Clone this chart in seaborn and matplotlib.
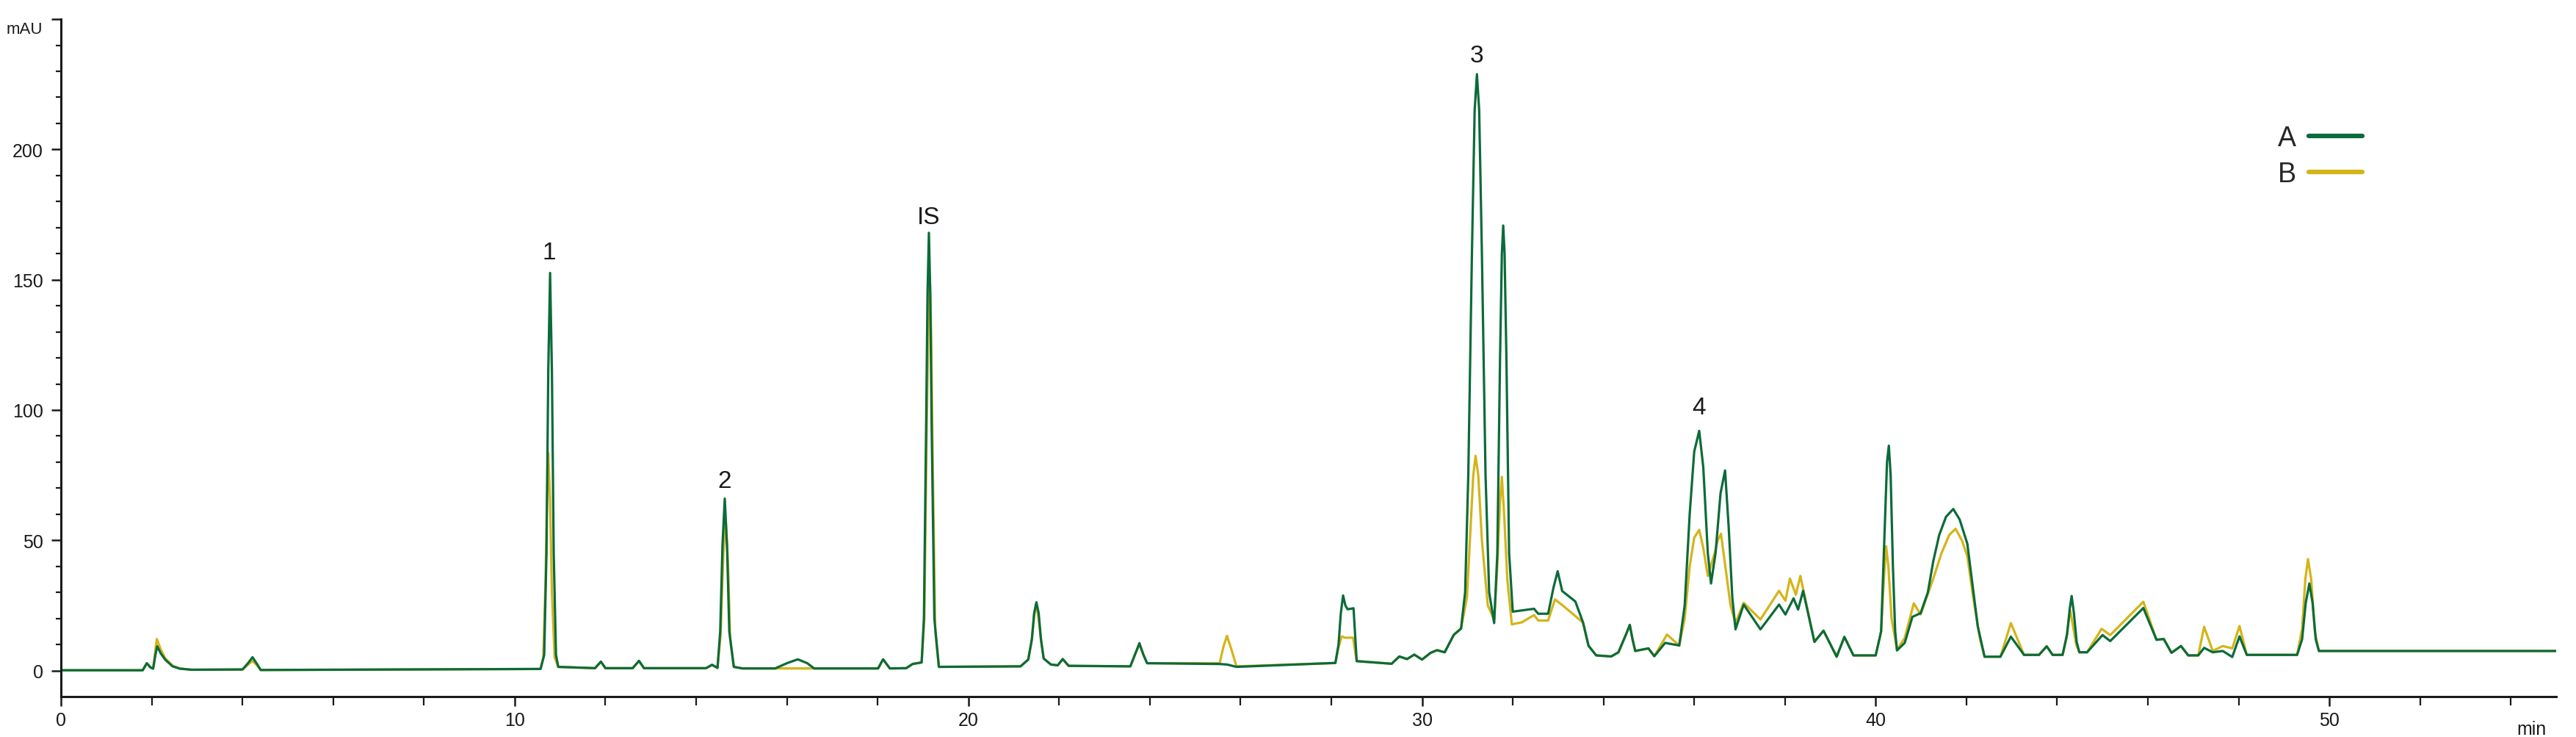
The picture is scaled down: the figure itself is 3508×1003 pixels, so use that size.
import numpy as np
import pandas as pd
import matplotlib
matplotlib.use("Agg")
import matplotlib.pyplot as plt
from matplotlib.lines import Line2D
from matplotlib.ticker import FixedLocator
import seaborn as sns

# chromatogram A (green): (retention time in min, absorbance in mAU)
points_a = [
    (0.00, 0.1), (1.80, 0.1), (1.89, 2.8), (1.97, 1.2), (2.03, 0.7), (2.08, 6.0),
    (2.12, 9.3), (2.20, 6.5), (2.30, 4.1), (2.46, 1.6), (2.62, 0.7), (2.88, 0.3),
    (4.00, 0.4), (4.12, 2.8), (4.22, 5.1), (4.32, 2.5), (4.40, 0.2),
    (10.57, 0.6), (10.65, 6), (10.70, 45), (10.74, 115), (10.78, 152.6), (10.82, 115),
    (10.86, 45), (10.91, 6), (10.96, 1.4),
    (11.77, 0.9), (11.90, 3.4), (12.00, 0.9), (12.60, 0.9), (12.74, 3.7), (12.85, 0.9),
    (14.22, 0.9), (14.35, 2.2), (14.47, 1.0), (14.53, 15), (14.58, 48), (14.63, 66),
    (14.68, 48), (14.73, 15), (14.83, 1.4), (15.02, 0.8),
    (15.74, 0.8), (16.00, 2.8), (16.24, 4.3), (16.45, 2.8), (16.60, 0.8),
    (18.01, 0.8), (18.12, 4.3), (18.27, 0.8), (18.63, 0.9), (18.77, 2.5), (18.97, 3.1),
    (19.02, 20), (19.07, 95), (19.10, 145), (19.13, 168), (19.16, 145), (19.19, 95),
    (19.25, 20), (19.35, 1.4),
    (21.15, 1.6), (21.32, 4.2), (21.40, 12), (21.45, 22), (21.50, 26.2), (21.55, 22),
    (21.60, 12), (21.66, 4.6), (21.82, 2.3), (21.97, 2.0), (22.08, 4.4), (22.21, 1.8),
    (23.57, 1.6), (23.67, 6), (23.77, 10.5), (23.86, 6), (23.94, 2.8),
    (25.54, 2.5), (25.70, 2.3), (25.91, 1.4),
    (28.09, 2.9), (28.16, 10), (28.21, 22), (28.26, 28.8), (28.31, 25), (28.36, 23.5),
    (28.49, 23.9), (28.52, 15), (28.56, 3.6),
    (29.33, 2.6), (29.50, 5.4), (29.67, 4.4), (29.83, 6.1), (30.00, 4.2), (30.19, 6.8),
    (30.33, 7.8), (30.50, 7.0), (30.70, 13.7), (30.86, 16.1),
    (30.95, 30), (31.02, 75), (31.10, 160), (31.16, 215), (31.21, 228.9), (31.26, 215),
    (31.32, 160), (31.40, 75), (31.48, 30), (31.59, 18.2),
    (31.66, 45), (31.72, 120), (31.76, 160), (31.79, 170.8), (31.82, 160), (31.86, 120),
    (31.92, 45), (32.00, 22.6),
    (32.47, 23.7), (32.56, 21.8), (32.78, 21.8), (32.90, 32), (32.99, 38.1), (33.09, 30.5),
    (33.38, 26.5), (33.55, 18.4), (33.67, 9.5), (33.84, 5.8),
    (34.17, 5.4), (34.33, 7.0), (34.50, 14), (34.58, 17.5), (34.64, 12), (34.70, 7.5),
    (34.99, 8.5), (35.12, 5.5), (35.36, 10.6), (35.67, 9.6),
    (35.79, 25), (35.90, 60), (36.00, 84), (36.11, 92), (36.20, 78), (36.30, 45),
    (36.37, 33.4), (36.47, 45), (36.58, 68), (36.68, 76.8), (36.76, 55), (36.84, 28),
    (36.91, 15.8),
    (37.09, 25.3), (37.46, 15.8), (37.87, 25.3), (38.01, 21.5), (38.19, 27.7),
    (38.29, 23.4), (38.40, 30.6), (38.65, 11.0), (38.85, 15.3), (39.14, 5.3),
    (39.31, 12.9), (39.51, 5.8),
    (40.00, 5.8), (40.12, 15), (40.20, 55), (40.25, 80), (40.29, 86.3), (40.33, 75),
    (40.38, 40), (40.43, 15), (40.47, 7.7),
    (40.64, 10.6), (40.81, 20.6), (40.99, 22), (41.15, 30), (41.27, 42), (41.40, 52),
    (41.55, 59), (41.71, 62), (41.85, 58), (42.02, 48.7), (42.12, 35), (42.25, 17),
    (42.40, 5.3), (42.75, 5.3), (42.98, 13), (43.27, 6.0), (43.60, 6.0), (43.77, 9.3),
    (43.90, 6.0), (44.12, 6.0), (44.22, 14), (44.28, 24), (44.32, 28.6), (44.37, 22),
    (44.43, 11), (44.49, 7.0), (44.66, 7.0), (45.00, 13.6), (45.17, 11.3), (45.90, 24.0),
    (46.19, 11.8), (46.35, 12.1), (46.52, 6.8), (46.73, 9.4), (46.89, 5.8), (47.11, 5.8),
    (47.24, 8.7), (47.43, 7.0), (47.65, 7.5), (47.86, 5.2), (48.02, 13.1), (48.18, 6.0),
    (49.29, 6.0), (49.40, 12), (49.48, 26), (49.56, 33.4), (49.63, 26), (49.70, 12),
    (49.77, 7.5), (55.00, 7.5),
]

# chromatogram B (yellow)
points_b = [
    (0.00, 0.1), (1.80, 0.1), (1.89, 2.8), (1.97, 1.2), (2.03, 0.9), (2.08, 8.0),
    (2.11, 12.1), (2.20, 8.0), (2.30, 4.6), (2.46, 1.8), (2.62, 0.8), (2.88, 0.3),
    (4.00, 0.4), (4.12, 2.2), (4.22, 3.7), (4.32, 2.0), (4.40, 0.2),
    (10.57, 0.6), (10.63, 5), (10.68, 35), (10.71, 65), (10.74, 83.5), (10.78, 65),
    (10.82, 30), (10.88, 5), (10.96, 1.4),
    (11.77, 0.9), (11.90, 3.4), (12.00, 0.9), (12.60, 0.9), (12.74, 3.7), (12.85, 0.9),
    (14.22, 0.9), (14.35, 2.2), (14.47, 1.0), (14.54, 14), (14.60, 45), (14.65, 58),
    (14.70, 42), (14.75, 12), (14.83, 1.4), (15.02, 0.8), (16.60, 0.8),
    (18.01, 0.8), (18.12, 4.3), (18.27, 0.8), (18.63, 0.9), (18.77, 2.5), (18.97, 3.1),
    (19.03, 20), (19.08, 90), (19.12, 135), (19.15, 151), (19.18, 130), (19.21, 85),
    (19.27, 15), (19.35, 1.4),
    (21.15, 1.6), (21.32, 4.2), (21.40, 12), (21.45, 21), (21.49, 25.5), (21.54, 21),
    (21.60, 12), (21.66, 4.6), (21.82, 2.3), (21.97, 2.0), (22.08, 4.4), (22.21, 1.8),
    (23.57, 1.6), (23.67, 6), (23.77, 10.0), (23.86, 6), (23.94, 2.8),
    (25.54, 2.8), (25.62, 9), (25.70, 13.3), (25.80, 8), (25.91, 1.6),
    (28.09, 2.9), (28.16, 9), (28.23, 13.1), (28.30, 12.6), (28.48, 12.6), (28.56, 3.6),
    (29.33, 2.6), (29.50, 5.4), (29.67, 4.4), (29.83, 6.1), (30.00, 4.2), (30.19, 6.8),
    (30.33, 7.8), (30.50, 7.0), (30.70, 13.7), (30.86, 16.1),
    (30.99, 28), (31.07, 55), (31.13, 75), (31.18, 82.4), (31.24, 75), (31.32, 50),
    (31.45, 25), (31.59, 19.5),
    (31.66, 40), (31.72, 65), (31.76, 74.3), (31.81, 60), (31.88, 35), (31.98, 17.7),
    (32.20, 18.5), (32.47, 21.3), (32.56, 19.2), (32.78, 19.2), (32.93, 27.3),
    (33.10, 25), (33.42, 20.3), (33.55, 18.4), (33.67, 9.5), (33.84, 5.8),
    (34.17, 5.4), (34.33, 7.0), (34.50, 14), (34.58, 17.5), (34.64, 12), (34.70, 7.5),
    (34.99, 8.5), (35.12, 5.5), (35.40, 13.8), (35.67, 9.6),
    (35.79, 20), (35.90, 40), (36.00, 51), (36.11, 54), (36.20, 47), (36.30, 36.3),
    (36.45, 45), (36.52, 50), (36.59, 52.5), (36.67, 42), (36.80, 25), (36.91, 18.2),
    (37.09, 26), (37.46, 19.6), (37.87, 30.6), (38.01, 26.8), (38.11, 35.3),
    (38.24, 29.1), (38.34, 36.3), (38.65, 11.0), (38.85, 15.3), (39.14, 5.3),
    (39.31, 12.9), (39.51, 5.8),
    (40.00, 5.8), (40.12, 15), (40.18, 35), (40.23, 47.7), (40.28, 40), (40.35, 20),
    (40.47, 8), (40.64, 12.5), (40.84, 25.8), (40.99, 21.5), (41.27, 35.3), (41.45, 45),
    (41.62, 52), (41.76, 54.4), (41.90, 50), (42.02, 43.9), (42.15, 28), (42.30, 12),
    (42.40, 5.3), (42.75, 5.3), (42.98, 18.2), (43.27, 6.0), (43.60, 6.0), (43.77, 9.3),
    (43.90, 6.0), (44.12, 6.0), (44.20, 12), (44.26, 20), (44.29, 23), (44.34, 18),
    (44.42, 10), (44.49, 7.0), (44.66, 7.0), (44.98, 16.0), (45.17, 13.6), (45.90, 26.4),
    (46.19, 11.8), (46.35, 12.1), (46.52, 6.8), (46.73, 9.4), (46.89, 5.8), (47.11, 5.8),
    (47.24, 16.8), (47.43, 7.5), (47.65, 9.4), (47.86, 8.5), (48.02, 17.1), (48.18, 6.0),
    (49.29, 6.0), (49.40, 16), (49.47, 35), (49.53, 42.8), (49.60, 35), (49.68, 15),
    (49.77, 7.5), (55.00, 7.5),
]

# peak annotations
peak_names = ["1", "2", "IS", "3", "4"]
peak_times = [10.76, 14.62, 19.13, 31.2, 36.1]
peak_label_y = [160.5, 72.7, 174.0, 236.0, 101.0]

colors = {"A": "#0b6b3a", "B": "#d4b419"}

df = pd.concat([
    pd.DataFrame(points_b, columns=["time", "mAU"]).assign(sample="B"),
    pd.DataFrame(points_a, columns=["time", "mAU"]).assign(sample="A"),
], ignore_index=True)

sns.set_theme(style="ticks")
plt.rcParams["font.family"] = ["Liberation Sans", "DejaVu Sans"]

fig = plt.figure(figsize=(35.08, 10.04), dpi=100)
ax = fig.add_axes([0.0237, 0.0548, 0.9686, 0.9182])

sns.lineplot(data=df, x="time", y="mAU", hue="sample", hue_order=["B", "A"],
             palette=colors, estimator=None, sort=False, linewidth=2.3,
             legend=False, ax=ax)

for name, t, y in zip(peak_names, peak_times, peak_label_y):
    ax.text(t, y, name, ha="center", va="center", fontsize=24, color="#1a1a1a")

ax.set_xlim(0, 55)
ax.set_ylim(-10, 250)
ax.set_xticks([0, 10, 20, 30, 40, 50])
ax.xaxis.set_minor_locator(FixedLocator([2, 4, 6, 8, 12, 14, 16, 18, 22, 24, 26, 28,
                                         32, 34, 36, 38, 42, 44, 46, 48, 52, 54]))
ax.set_yticks([0, 50, 100, 150, 200, 250])
ax.set_yticklabels(["0", "50", "100", "150", "200", ""])
ax.yaxis.set_minor_locator(FixedLocator([v for v in range(10, 250, 10) if v % 50]))
ax.set_xlabel("")
ax.set_ylabel("")

for s in ["left", "bottom"]:
    ax.spines[s].set_linewidth(2.2)
    ax.spines[s].set_color("#1a1a1a")
sns.despine(ax=ax)

ax.tick_params(axis="both", which="major", length=9.5, width=1.8, color="#1a1a1a",
               labelsize=18, labelcolor="#1a1a1a")
ax.tick_params(axis="y", which="major", pad=8)
ax.tick_params(axis="x", which="major", pad=5)
ax.tick_params(axis="y", which="minor", length=5, width=1.6, color="#1a1a1a")
ax.tick_params(axis="x", which="minor", length=8.5, width=1.6, color="#1a1a1a")

ax.text(-0.0075, 0.986, "mAU", transform=ax.transAxes, ha="right", va="center",
        fontsize=16, color="#1a1a1a")
ax.text(0.996, -0.035, "min", transform=ax.transAxes, ha="right", va="top",
        fontsize=18, color="#1a1a1a")

handles = [Line2D([], [], color=colors["A"], linewidth=4.5),
           Line2D([], [], color=colors["B"], linewidth=4.5)]
ax.legend(handles, ["A", "B"], markerfirst=False, frameon=False, loc="upper left",
          bbox_to_anchor=(0.884, 0.86), fontsize=27, handlelength=1.95,
          handletextpad=0.45, labelspacing=0.35, borderaxespad=0)

fig.savefig("out.png", dpi=100)
